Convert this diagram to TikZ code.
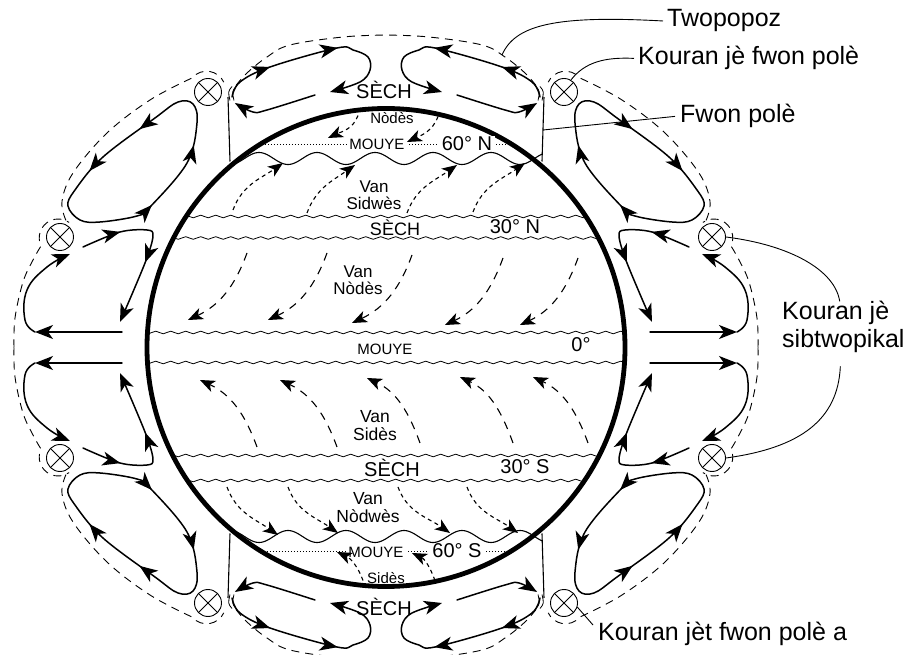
\documentclass[tikz,border=0pt]{standalone}
\usepackage{fontspec}
\setmainfont{Liberation Sans}
\usetikzlibrary{arrows.meta,decorations.markings,decorations.pathmorphing}

\newcommand\fontpt[2]{\fontsize{#1}{#2}\selectfont}

\tikzset{
  >={Stealth[length=18pt,width=14pt,inset=5pt]},
  cell/.style={line width=1.5pt, line cap=round},
  flow/.style={cell, ->},
  arrowat/.style={postaction={decorate, decoration={markings, mark=at position #1 with {\arrow{>}}}}},
  tropo/.style={line width=0.9pt, dash pattern=on 8pt off 6pt},
  globe/.style={line width=4.8pt},
  band/.style={line width=0.8pt, decorate, decoration={snake, segment length=15pt, amplitude=1.3pt}},
  frontline/.style={line width=1.1pt},
  isoline/.style={line width=0.9pt, dash pattern=on 1.2pt off 1.8pt},
  windtip/.style={-{Stealth[length=15pt,width=12pt,inset=4pt]}},
  trade/.style={line width=1.1pt, dash pattern=on 8pt off 7pt, windtip},
  wester/.style={line width=1.1pt, dash pattern=on 4pt off 3.5pt, windtip},
  jet/.style={circle, draw, fill=white, line width=0.9pt, minimum size=27pt, inner sep=0pt,
    path picture={\draw[line width=0.9pt]
      (path picture bounding box.north west) -- (path picture bounding box.south east)
      (path picture bounding box.south west) -- (path picture bounding box.north east);}},
  leader/.style={line width=0.9pt},
  lbl/.style={inner sep=0pt, align=center},
  side/.style={inner sep=0pt, anchor=base west, font=\fontpt{25}{28}},
}

% One quarter of the circulation (north-west); the others are its mirror images
\newcommand\cellquarter[1]{%
  % tropopause pieces
  \draw[tropo] plot[smooth, tension=0.6] coordinates {(-372,0) (-371,29.5) (-363,65.5) (-353,87.5) (-345,101.5)}
      arc[start angle=205, end angle=55, radius=19];
  \draw[tropo] plot[smooth, tension=0.6] coordinates {(-320,127) (-324,146) (-313,174.5) (-279,214.5) (-236,247.5) (-194,269.5)}
      arc[start angle=140, end angle=25, radius=19];
  \draw[tropo] plot[smooth, tension=0.6] coordinates {(-150,262) (-139,274.5) (-119,290.5) (-96,302.5) (-43,310.5) (0,312.5)};
  \coordinate (tropo#1) at (-116,292.5);
  % break of the tropopause above the polar front
  \draw[line width=0.8pt] (-154,261) .. controls (-158,256) .. (-156,247);
  \draw[line width=0.8pt] (-150,261) .. controls (-154,256) .. (-152,247);
  % polar front surface
  \draw[frontline] (-158,250.5) -- (-156,186);
  \coordinate (front#1) at (-157,217.5);
  % polar cell
  \draw[flow, arrowat=0.237, arrowat=0.563] plot[smooth, tension=0.6] coordinates
      {(-154,250.5) (-146,265.5) (-116,280.5) (-49,299.5) (-33,297.5) (-18,290.5) (-16,277.5) (-26,265.5) (-56,255.5)};
  \draw[flow] plot[smooth, tension=0.6] coordinates {(-71,252.5) (-119,237.5) (-133,235.5) (-151,244.5)};
  % Ferrel cell
  \draw[cell, arrowat=0.165, arrowat=0.336, arrowat=0.696, arrowat=0.889] plot[smooth cycle, tension=0.6] coordinates
      {(-189,224.5) (-193,243.5) (-208,245.5) (-231,229.5) (-283,190.5) (-311,157.5) (-318,141.5)
       (-306,127.5) (-286,125.5) (-249,131.5) (-236,140.5) (-199,184.5)};
  % Hadley cell
  \draw[flow, arrowat=0.238, arrowat=0.618] plot[smooth, tension=0.55] coordinates
      {(-303,100.5) (-266,115.5) (-239,117.5) (-233,111.5) (-241,84.5) (-266,25.5)};
  \draw[flow] (-264,15.5) -- (-351,15.5);
  \draw[flow] plot[smooth, tension=0.7] coordinates {(-351,15.5) (-361,27.5) (-359,57.5) (-339,80.5) (-316,93.5)};
  % jet streams
  \node[jet] (ja#1) at (-178,255.5) {};
  \node[jet] (jb#1) at (-326,110.5) {};
}

\begin{document}
\begin{tikzpicture}[x=1pt, y=1pt]
\useasboundingbox (-386,-307.5) rectangle (532,347.5);

% circulation cells
\cellquarter{NW}
\begin{scope}[xscale=-1]\cellquarter{NE}\end{scope}
\begin{scope}[yscale=-1]\cellquarter{SW}\end{scope}
\begin{scope}[xscale=-1, yscale=-1]\cellquarter{SE}\end{scope}

% the Earth
\draw[globe] (0,0) circle (239);

% pressure belts
\begin{scope}
  \clip (0,0) circle (237);
  \foreach \yy in {131,109.5,15,-15,-108,-133}
    \draw[band] (-250,\yy) -- (250,\yy);
\end{scope}

% 60 degree parallels
\draw[isoline] (-127,203.5) -- (127,203.5);
\draw[isoline] (-125,-204) -- (125,-204);

% labels on the globe
\node[lbl, font=\fontpt{20}{22}] (sechN) at (-2,257.5) {SÈCH};
\node[lbl, font=\fontpt{15}{16}] (nodesP) at (6,229.5) {Nòdès};
\node[lbl, font=\fontpt{15}{16}, fill=white, inner xsep=2pt] (mouyeN) at (-9,203.5) {MOUYE};
\node[lbl, font=\fontpt{20}{22}, fill=white, inner xsep=3pt] (latN) at (81,204) {60° N};
\node[lbl, font=\fontpt{17}{17.5}] (vanSW) at (-12,152.5) {Van\\Sidwès};
\node[lbl, font=\fontpt{18}{20}] (sechTN) at (9,120) {SÈCH};
\node[lbl, font=\fontpt{20}{22}] (latTN) at (129,120.5) {30° N};
\node[lbl, font=\fontpt{17}{17.5}] (vanNE) at (-28,67.5) {Van\\Nòdès};
\node[lbl, font=\fontpt{15}{16}] (mouyeE) at (-1,-1.5) {MOUYE};
\node[lbl, font=\fontpt{20}{22}] (latE) at (195,3) {0°};
\node[lbl, font=\fontpt{17.5}{18}] (vanSE) at (-11,-78.5) {Van\\Sidès};
\node[lbl, font=\fontpt{20}{22}] (sechTS) at (6,-120.5) {SÈCH};
\node[lbl, font=\fontpt{20}{22}] (latTS) at (139,-119.5) {30° S};
\node[lbl, font=\fontpt{17.5}{18}] (vanNW) at (-18,-160.5) {Van\\Nòdwès};
\node[lbl, font=\fontpt{15}{16}, fill=white, inner xsep=2pt] (mouyeS) at (-10,-204.5) {MOUYE};
\node[lbl, font=\fontpt{20}{22}, fill=white, inner xsep=3pt] (latS) at (71,-203) {60° S};
\node[lbl, font=\fontpt{15}{16}] (sidesP) at (0,-230.5) {Sidès};
\node[lbl, font=\fontpt{20}{22}] (sechS) at (-2,-259.5) {SÈCH};

% polar fronts (wave of period 58)
\draw[frontline] plot[domain=-156:156, samples=160] (\x,{189+6*sin(6.2069*(\x+156)-90)});
\draw[frontline] plot[domain=-156:156, samples=160] (\x,{-189-6*sin(6.2069*(\x+156)-90)});

% surface winds
\foreach \sx/\sy/\tx/\ty in {-28/232/-58/209.5, 52/231/21/205.5}
  \draw[wester] (\sx,\sy) to[out=250, in=25] (\tx,\ty);
\foreach \sx/\sy/\tx/\ty in {-153/137.5/-103/184.5, -79/134.5/-31/182.5, 21/134.5/71/182.5, 87/135.5/139/184.5}
  \draw[wester] (\sx,\sy) to[out=70, in=215] (\tx,\ty);
\foreach \sx/\sy/\tx/\ty in {-139/94.5/-198/27.5, -59/94.5/-118/27.5, 26/92.5/-34/24.5, 117/89.5/59/22.5, 192/89.5/134/22.5}
  \draw[trade] (\sx,\sy) to[out=250, in=25] (\tx,\ty);
\foreach \sx/\sy/\tx/\ty in {-129/-99.5/-186/-32.5, -49/-99.5/-106/-32.5, 34/-95.5/-19/-30.5, 127/-95.5/74/-29.5, 202/-95.5/147/-29.5}
  \draw[trade] (\sx,\sy) to[out=110, in=-25] (\tx,\ty);
\foreach \sx/\sy/\tx/\ty in {-159/-139.5/-108/-187.5, -98/-139.5/-48/-185.5, 12/-139.5/64/-185.5, 81/-139.5/132/-185.5}
  \draw[wester] (\sx,\sy) to[out=-70, in=145] (\tx,\ty);
\foreach \sx/\sy/\tx/\ty in {-23/-233/-49/-204.5, 49/-233/26/-205.5}
  \draw[wester] (\sx,\sy) to[out=110, in=-25] (\tx,\ty);

% callouts
\node[side] (twop) at (281,320.5) {Twopopoz};
\node[side] (kfp) at (252,282.5) {Kouran jè fwon polè};
\node[side] (fwp) at (294,224.5) {Fwon polè};
\node[side] (ksubA) at (396,27.5) {Kouran jè};
\node[side] (ksubB) at (396,-0.5) {sibtwopikal};
\node[side] (kjet) at (212,-292.5) {Kouran jèt fwon polè a};

\draw[leader] (tropoNE) .. controls (129,322.5) and (169,332.5) .. ([xshift=-4pt]twop.west);
\draw[leader] (jaNE.60) .. controls (199,285.5) and (219,290.5) .. ([xshift=-4pt]kfp.west);
\draw[leader] (frontNE) -- ([xshift=-5pt]fwp.west);
\draw[leader] (jbNE.east) .. controls (404,102.5) and (449,77.5) .. ([xshift=4pt]ksubA.north);
\draw[leader] (jbSE.east) .. controls (414,-100.5) and (452,-72.5) .. ([shift={(-3pt,-13pt)}]ksubB.south);
\draw[leader] (jaSE.-17) -- ([shift={(-5pt,15pt)}]kjet.base west);
\end{tikzpicture}
\end{document}
